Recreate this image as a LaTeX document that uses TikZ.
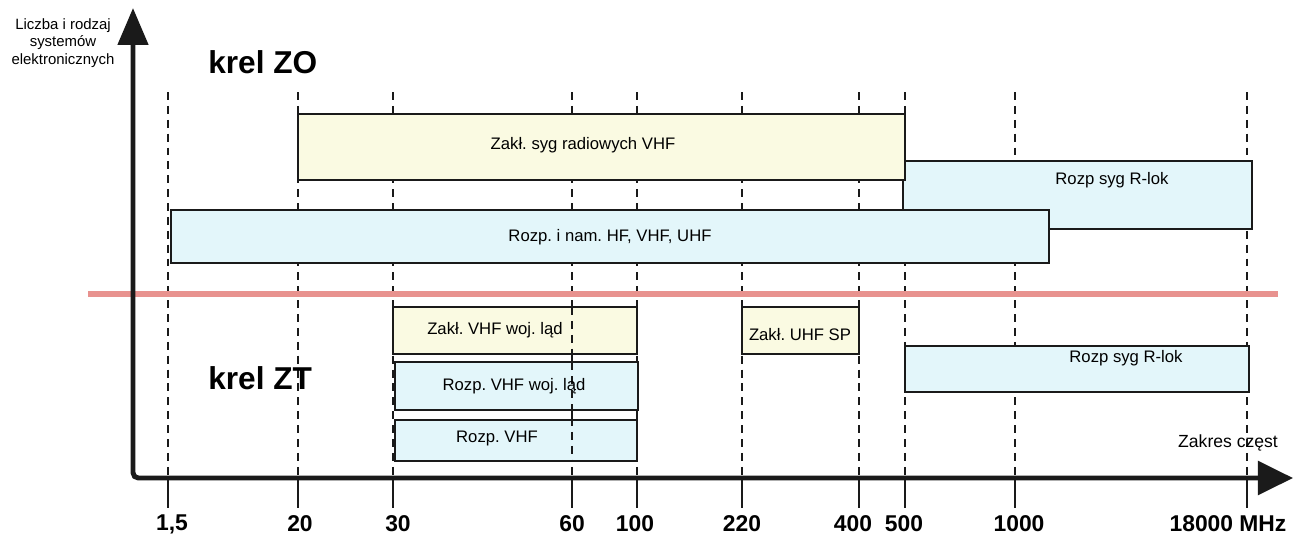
\documentclass[tikz,border=0pt]{standalone}
\usepackage{fontspec}
\setmainfont{Liberation Sans}
\usetikzlibrary{arrows.meta,fit}
\definecolor{ink}{HTML}{1A1A1A}
\definecolor{cream}{HTML}{FAFAE2}
\definecolor{icecyan}{HTML}{E3F6FA}
\definecolor{redline}{HTML}{E8928F}
\frenchspacing

\begin{document}
\begin{tikzpicture}[x=0.02cm,y=-0.02cm,
  axis/.style={line width=2.8pt,ink,rounded corners=3pt},
  grid/.style={ink,line width=0.8pt,dash pattern=on 4.5pt off 3.4pt},
  tick/.style={ink,line width=0.8pt},
  band/.style={draw=ink,line width=0.9pt,inner sep=0pt},
  zakl/.style={band,fill=cream},
  rozp/.style={band,fill=icecyan},
  btxt/.style={font=\fontsize{9.5}{11}\selectfont,inner sep=0pt},
  freq/.style={font=\fontsize{13}{15}\selectfont\bfseries,inner sep=0pt},
  krel/.style={font=\fontsize{18}{20}\selectfont\bfseries,inner sep=0pt,anchor=west},
]
\useasboundingbox (0,0) rectangle (1299,538);

% frequency grid, ticks and labels
\foreach \x/\lx/\f/\n in {168/172/{1,5}/a,298/300/20/b,393/398/30/c,572/572/60/d,
    637/635/100/e,742/742/220/f,859/853/400/g,905/904/500/h,1015/1019/1000/i,
    1247/1228/{18000 MHz}/j}{
  \draw[grid] (\x,92) -- (\x,478);
  \draw[tick] (\x,478) -- (\x,508);
  \node[freq] (f\n) at (\lx,524) {\f};
}

% bands above the line (krel ZO)
\node[rozp,fit={(903,161) (1252,229)}] (rlokzo) {};
\node[zakl,fit={(298,114) (905,180)}] (zaklzo) {};
\node[rozp,fit={(171,210) (1049,263)}] (rozpzo) {};
\node[btxt] (rlokzo-t) at (1112,180) {Rozp syg R-lok};
\node[btxt] (zaklzo-t) at (583,145) {Zakł. syg radiowych VHF};
\node[btxt] (rozpzo-t) at (610,237) {Rozp. i nam. HF, VHF, UHF};

% bands below the line (krel ZT)
\node[zakl,fit={(393,307) (637,354)}] (zaklwl) {};
\node[rozp,fit={(395,362) (638,410)}] (rozpwl) {};
\node[rozp,fit={(395,420) (637,461)}] (rozpvhf) {};
\node[zakl,fit={(742,307) (859,354)}] (zaklsp) {};
\node[rozp,fit={(905,346) (1249,392)}] (rlokzt) {};
\draw[grid] (572,307) -- (572,461);
\node[btxt] (zaklwl-t) at (495,330) {Zakł. VHF woj. ląd};
\node[btxt] (rozpwl-t) at (514,386) {Rozp. VHF woj. ląd};
\node[btxt] (rozpvhf-t) at (497,438) {Rozp. VHF};
\node[btxt] (zaklsp-t) at (800,335) {Zakł. UHF SP};
\node[btxt] (rlokzt-t) at (1126,358) {Rozp syg R-lok};

% dividing line
\coordinate (divl) at (88,294);
\coordinate (divr) at (1278,294);
\draw[redline,line width=3.4pt] (divl) -- (divr);

\node[krel] (zo) at (208,62) {krel ZO};
\node[krel] (zt) at (208,378) {krel ZT};

% axes
\coordinate (ytip) at (133,8);
\coordinate (orig) at (133,478);
\coordinate (xtip) at (1293,478);
\draw[axis,{Triangle[length=21pt,width=17pt]}-{Triangle[length=20pt,width=19pt]}]
  (ytip) -- (orig) -- (xtip);
\node[align=center,inner sep=0pt,font=\fontsize{8.5}{9.8}\selectfont] (ylab) at (63,43)
  {Liczba i rodzaj\\systemów\\elektronicznych};
\node[btxt,font=\fontsize{10}{12}\selectfont] (xlab) at (1228,443) {Zakres częst};
\end{tikzpicture}
\end{document}
